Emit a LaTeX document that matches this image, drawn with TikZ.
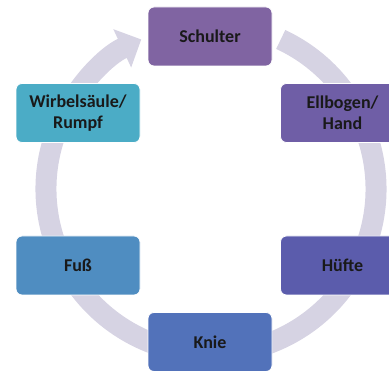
\documentclass[tikz,border=0pt]{standalone}
\usepackage{fontspec}
\setmainfont{Carlito}
\usetikzlibrary{arrows.meta}
\definecolor{ringc}{HTML}{D6D3E3}
\definecolor{cA}{HTML}{8064A2}
\definecolor{cB}{HTML}{6F5EA6}
\definecolor{cC}{HTML}{5B5CAC}
\definecolor{cD}{HTML}{5272BA}
\definecolor{cE}{HTML}{4F8DC1}
\definecolor{cF}{HTML}{4BACC6}
\tikzset{
  stepbox/.style={rounded corners=6pt, draw=white, line width=0.8pt,
    minimum width=124pt, minimum height=59pt, inner sep=0pt,
    align=center, text=black!90,
    font=\fontsize{18}{21}\selectfont\bfseries},
  ring/.style={draw=ringc, line width=21pt,
    -{Triangle[width=41pt,length=21pt]}}
}
\begin{document}
\begin{tikzpicture}[x=1pt,y=1pt]
\useasboundingbox (0,0) rectangle (389,371);
\clip (0,0) rectangle (389,371);
\coordinate (c) at (211,182);
\draw[ring] (c) ++(65:165) arc[start angle=65, end angle=-245, radius=165];
\node[stepbox, fill=cA] (schulter) at (210,334.5) {Schulter};
\node[stepbox, fill=cB] (ellbogen) at (342.5,258) {Ellbogen/\\Hand};
\node[stepbox, fill=cC] (huefte) at (342.5,105.5) {Hüfte};
\node[stepbox, fill=cD] (knie) at (210,29) {Knie};
\node[stepbox, fill=cE] (fuss) at (78,105.5) {Fuß};
\node[stepbox, fill=cF] (wirbel) at (78,258) {Wirbelsäule/\\Rumpf};
\end{tikzpicture}
\end{document}
